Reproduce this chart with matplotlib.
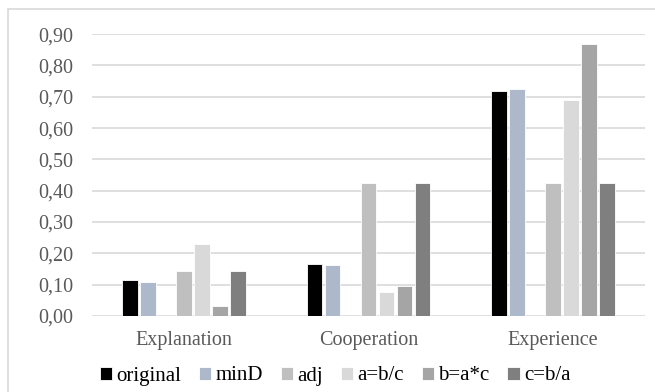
import numpy as np
import matplotlib.pyplot as plt
from matplotlib.patches import Rectangle

categories = ['Explanation', 'Cooperation', 'Experience']
series = ['original', 'minD', 'adj', 'a=b/c', 'b=a*c', 'c=b/a']
original = [0.114, 0.165, 0.717]
min_d = [0.109, 0.162, 0.724]
adj = [0.143, 0.426, 0.426]
a_bc = [0.230, 0.076, 0.690]
b_ac = [0.031, 0.096, 0.868]
c_ba = [0.143, 0.426, 0.426]
yticks = [0.0, 0.1, 0.2, 0.3, 0.4, 0.5, 0.6, 0.7, 0.8, 0.9]

values = [original, min_d, adj, a_bc, b_ac, c_ba]
colors = ['#000000', '#ADB9CA', '#BFBFBF', '#D9D9D9', '#A5A5A5', '#7F7F7F']
# seven slots per group, slot 2 is left empty
slots = [0, 1, 3, 4, 5, 6]

plt.rcParams['font.family'] = ['Liberation Serif', 'DejaVu Serif']

fig = plt.figure(figsize=(6.55, 3.92), dpi=100)
ax = fig.add_axes([0.140, 0.194, 0.845, 0.719])

x = np.arange(len(categories))
pitch = 0.0976
width = 0.083
for vals, col, slot, name in zip(values, colors, slots, series):
    ax.bar(x + (slot - 3) * pitch, vals, width, color=col, label=name,
           edgecolor='white', linewidth=0.6, zorder=3)

ax.set_xlim(-0.5, 2.5)
ax.set_ylim(0, 0.9)
ax.set_yticks(yticks)
ax.set_yticklabels([f'{t:.2f}'.replace('.', ',') for t in yticks])
ax.set_xticks(x)
ax.set_xticklabels(categories)
ax.tick_params(axis='both', length=0, labelsize=14.5, labelcolor='#595959')
ax.tick_params(axis='y', pad=13.5)
ax.tick_params(axis='x', pad=11)
ax.grid(axis='y', color='#D9D9D9', linewidth=1.2, zorder=0)
for s in ax.spines.values():
    s.set_visible(False)

leg = fig.legend(loc='center', bbox_to_anchor=(335 / 655, 1 - 376 / 392),
                 ncol=6, frameon=False, fontsize=15, handlelength=0.6,
                 handleheight=0.6, handletextpad=0.2, columnspacing=0.85,
                 labelcolor='#000000')
for h in leg.legend_handles:
    h.set_edgecolor('white')

# light frame around the chart area
fig.patches.append(Rectangle((7.5 / 655, -0.1), 1.2, 1 - 9 / 392 + 0.1,
                             transform=fig.transFigure, fill=False,
                             edgecolor='#D9D9D9', linewidth=1.2))

fig.savefig('out.png', dpi=100)
